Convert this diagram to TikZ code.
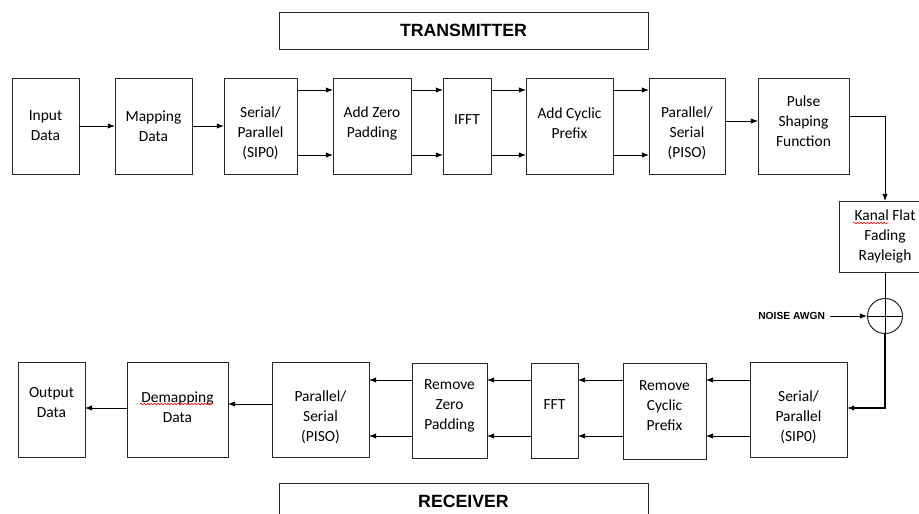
\documentclass[tikz,border=0pt]{standalone}
\usepackage{fontspec}
\newfontfamily\blokfont{Carlito}
\newfontfamily\judulfont{Liberation Sans}
\usetikzlibrary{arrows.meta, decorations.pathmorphing}
\newcommand{\px}{0.025cm}

\begin{document}
\begin{tikzpicture}[x=0.025cm, y=-0.025cm, >={Latex[length=5pt,width=3.8pt]},
    blok/.style={draw=black!85, line width=0.6pt, inner sep=0pt, outer sep=0pt},
    teks/.style={align=center, inner sep=0pt, font=\blokfont\fontsize{11}{14.2}\selectfont},
    judul/.style={draw=black!85, line width=0.6pt, inner sep=0pt, outer sep=0pt,
        minimum width=369*\px, minimum height=37*\px,
        font=\judulfont\bfseries\fontsize{12.6}{15}\selectfont},
    panah/.style={->, line width=0.7pt},
    salah/.style={red, line width=0.4pt, decorate,
        decoration={snake, amplitude=0.6pt, segment length=2.4pt}}]

    % 0. Batas gambar
    \useasboundingbox (0,0) rectangle (919,513);
    \clip (0,0) rectangle (919,513);

    % 1. Judul
    \node[judul] (tx) at (463.5,30.5) {TRANSMITTER};
    \node[judul] (rx) at (463.5,501.5) {RECEIVER};

    % 2. Blok pemancar (baris atas)
    \node[blok, minimum width=67*\px, minimum height=96*\px,
        label={[teks]center:{Input\\Data}}] (inp) at (45.5,126) {};
    \node[blok, minimum width=77*\px, minimum height=96*\px,
        label={[teks]center:{Mapping\\Data}}] (map) at (153.5,126) {};
    \node[blok, minimum width=73*\px, minimum height=96*\px,
        label={[teks, yshift=-7*\px]center:{Serial/\\Parallel\\(SIP0)}}] (sipo) at (260.5,126) {};
    \node[blok, minimum width=78*\px, minimum height=96*\px,
        label={[teks, yshift=3*\px]center:{Add Zero\\Padding}}] (zero) at (372,126) {};
    \node[blok, minimum width=48*\px, minimum height=96*\px,
        label={[teks, yshift=6*\px]center:{IFFT}}] (ifft) at (467,126) {};
    \node[blok, minimum width=87*\px, minimum height=96*\px,
        label={[teks, yshift=3*\px]center:{Add Cyclic\\Prefix}}] (cyc) at (569.5,126) {};
    \node[blok, minimum width=76*\px, minimum height=96*\px,
        label={[teks, yshift=-7*\px]center:{Parallel/\\Serial\\(PISO)}}] (piso) at (687,126) {};
    \node[blok, minimum width=91*\px, minimum height=96*\px,
        label={[teks, yshift=5*\px]center:{Pulse\\Shaping\\Function}}] (pulse) at (803.5,126) {};

    % 3. Kanal dan derau
    \node[blok, minimum width=92*\px, minimum height=71*\px,
        label={[teks]center:{Kanal Flat\\Fading\\Rayleigh}}] (kanal) at (885,236.5) {};
    \node[draw=black!85, line width=0.7pt, circle, minimum size=35*\px, inner sep=0pt] (sum) at (885,316) {};
    \node[font=\judulfont\bfseries\fontsize{7.3}{9}\selectfont, anchor=east] (noise) at (830,316) {NOISE AWGN};

    % 4. Blok penerima (baris bawah)
    \node[blok, minimum width=67*\px, minimum height=95*\px,
        label={[teks, yshift=6.5*\px]center:{Output\\Data}}] (outp) at (51.5,409.5) {};
    \node[blok, minimum width=101*\px, minimum height=95*\px,
        label={[teks, yshift=2.5*\px]center:{Demapping\\Data}}] (demap) at (177.5,409.5) {};
    \node[blok, minimum width=97*\px, minimum height=95*\px,
        label={[teks, yshift=-7.5*\px]center:{Parallel/\\Serial\\(PISO)}}] (rpiso) at (320.5,409.5) {};
    \node[blok, minimum width=75*\px, minimum height=95*\px,
        label={[teks, yshift=5*\px]center:{Remove\\Zero\\Padding}}] (rzero) at (449.5,410.5) {};
    \node[blok, minimum width=47*\px, minimum height=95*\px,
        label={[teks, yshift=5.5*\px]center:{FFT}}] (fft) at (554.5,410.5) {};
    \node[blok, minimum width=83*\px, minimum height=96*\px,
        label={[teks, yshift=5*\px]center:{Remove\\Cyclic\\Prefix}}] (rcyc) at (664.5,411) {};
    \node[blok, minimum width=97*\px, minimum height=95*\px,
        label={[teks, yshift=-7.5*\px]center:{Serial/\\Parallel\\(SIP0)}}] (rsipo) at (798.5,409.5) {};

    % 5. Panah pemancar
    \draw[panah] (inp) -- (map);
    \draw[panah] (map) -- (sipo);
    \foreach \a/\b in {sipo/zero, zero/ifft, ifft/cyc, cyc/piso} {
        \draw[panah] (\a.east |- 0,90) -- (\b.west |- 0,90);
        \draw[panah] (\a.east |- 0,155) -- (\b.west |- 0,155);
    }
    \draw[panah] (piso.east |- 0,121) -- (pulse.west |- 0,121);
    \draw[panah] (pulse.east |- 0,116) -| (kanal.north);

    % 6. Kanal, derau dan penjumlah
    \draw[line width=0.7pt] (kanal.south) -- (sum.south);
    \draw[line width=0.7pt] (sum.west) -- (sum.east);
    \draw[panah] (noise) -- (sum);
    \draw[->, line width=1.4pt] (sum.south) |- (rsipo.east |- 0,408);

    % 7. Panah penerima
    \foreach \a/\b in {rsipo/rcyc, rcyc/fft, fft/rzero, rzero/rpiso} {
        \draw[panah] (\a.west |- 0,380) -- (\b.east |- 0,380);
        \draw[panah] (\a.west |- 0,436) -- (\b.east |- 0,436);
    }
    \draw[panah] (rpiso.west |- 0,404) -- (demap.east |- 0,404);
    \draw[panah] (demap.west |- 0,408) -- (outp.east |- 0,408);

    % 8. Garis merah ejaan
    \draw[salah] (853,223) -- (888,223);
    \draw[salah] (140,404) -- (213,404);

\end{tikzpicture}
\end{document}
